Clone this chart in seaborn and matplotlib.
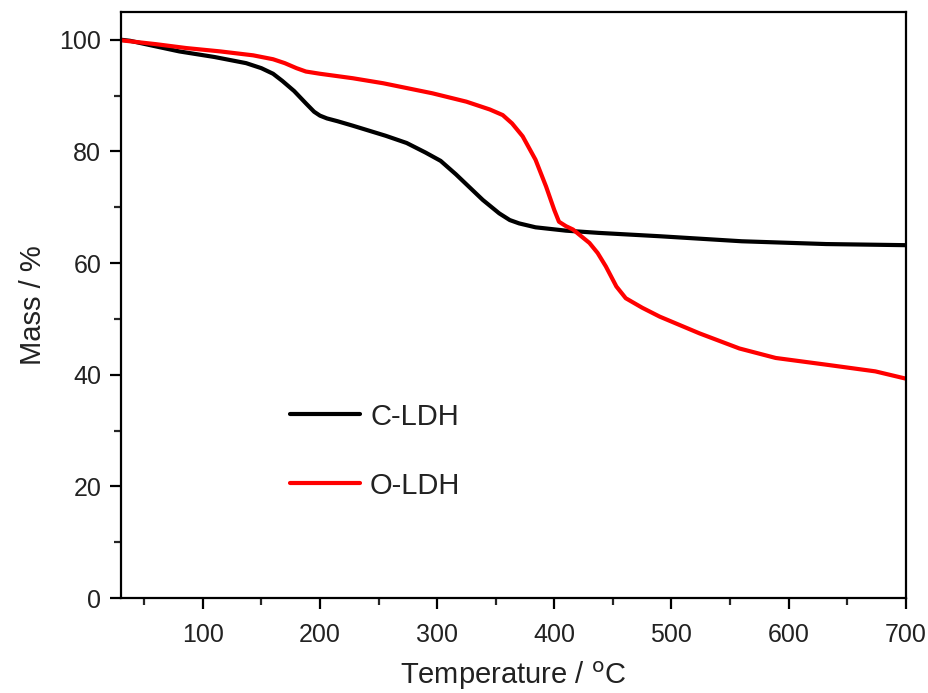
import matplotlib
matplotlib.use('Agg')
import matplotlib.pyplot as plt
from matplotlib.ticker import MultipleLocator
import numpy as np
import pandas as pd
import seaborn as sns

# TGA curves
c_temp = [30, 38, 60, 80, 110, 137, 150, 160, 168, 178, 188, 195, 200, 206, 215, 228, 256,
          274, 290, 303, 316, 339, 353, 362, 370, 384, 410, 438, 490, 560, 632, 700]
c_mass = [100, 99.8, 98.8, 97.9, 96.9, 95.8, 94.9, 93.9, 92.6, 90.8, 88.6, 87.1, 86.4, 85.9, 85.4, 84.6, 82.8,
          81.5, 79.8, 78.3, 75.9, 71.3, 68.9, 67.7, 67.1, 66.4, 65.8, 65.4, 64.8, 63.9, 63.4, 63.2]

o_temp = [30, 60, 86, 115, 143, 160, 170, 180, 188, 200, 228, 254, 296, 325, 345, 356, 364,
          373, 384, 393, 400, 404, 410, 416, 430, 437, 444, 453, 461, 475, 490, 524,
          558, 589, 632, 674, 700]
o_mass = [99.9, 99.2, 98.5, 97.9, 97.2, 96.5, 95.8, 94.9, 94.3, 93.9, 93.1, 92.2, 90.4, 88.9, 87.5, 86.5, 85.0,
          82.7, 78.5, 73.7, 69.5, 67.4, 66.6, 66.0, 63.6, 61.8, 59.4, 55.8, 53.7, 52.0, 50.4, 47.4,
          44.7, 43.0, 41.8, 40.6, 39.3]

df = pd.concat([
    pd.DataFrame({'T': c_temp, 'Mass': c_mass, 'sample': 'C-LDH'}),
    pd.DataFrame({'T': o_temp, 'Mass': o_mass, 'sample': 'O-LDH'}),
])

sns.set_style('ticks')
plt.rcParams['font.family'] = ['Liberation Sans', 'DejaVu Sans']

fig = plt.figure(figsize=(9.29, 6.93), dpi=100)
ax = fig.add_axes([0.130, 0.137, 0.845, 0.846])

sns.lineplot(data=df, x='T', y='Mass', hue='sample',
             palette={'C-LDH': 'black', 'O-LDH': 'red'},
             estimator=None, sort=True, lw=3, ax=ax)

ax.set_xlim(30, 700)
ax.set_ylim(0, 105)
ax.xaxis.set_major_locator(MultipleLocator(100))
ax.xaxis.set_minor_locator(MultipleLocator(50))
ax.yaxis.set_major_locator(MultipleLocator(20))
ax.yaxis.set_minor_locator(MultipleLocator(10))
ax.tick_params(which='major', direction='out', length=8, width=1.6, labelsize=18,
               colors='black', labelcolor='#222222')
ax.tick_params(which='minor', direction='out', length=5, width=1.6)
ax.tick_params(axis='x', pad=10)
ax.tick_params(axis='y', pad=6)
for s in ax.spines.values():
    s.set_linewidth(1.6)
    s.set_color('black')

ax.set_xlabel('Temperature / $^\\mathrm{o}$C', fontsize=21, labelpad=9, color='#222222')
ax.set_ylabel('Mass / %', fontsize=21, labelpad=9, color='#222222')

leg = ax.legend(loc='upper left', bbox_to_anchor=(0.182, 0.378), frameon=False,
                fontsize=21, handlelength=2.4, handletextpad=0.35, labelspacing=1.4)
for t in leg.get_texts():
    t.set_color('#222222')
for h in leg.get_lines():
    h.set_linewidth(3)

fig.savefig('out.png', dpi=100)
